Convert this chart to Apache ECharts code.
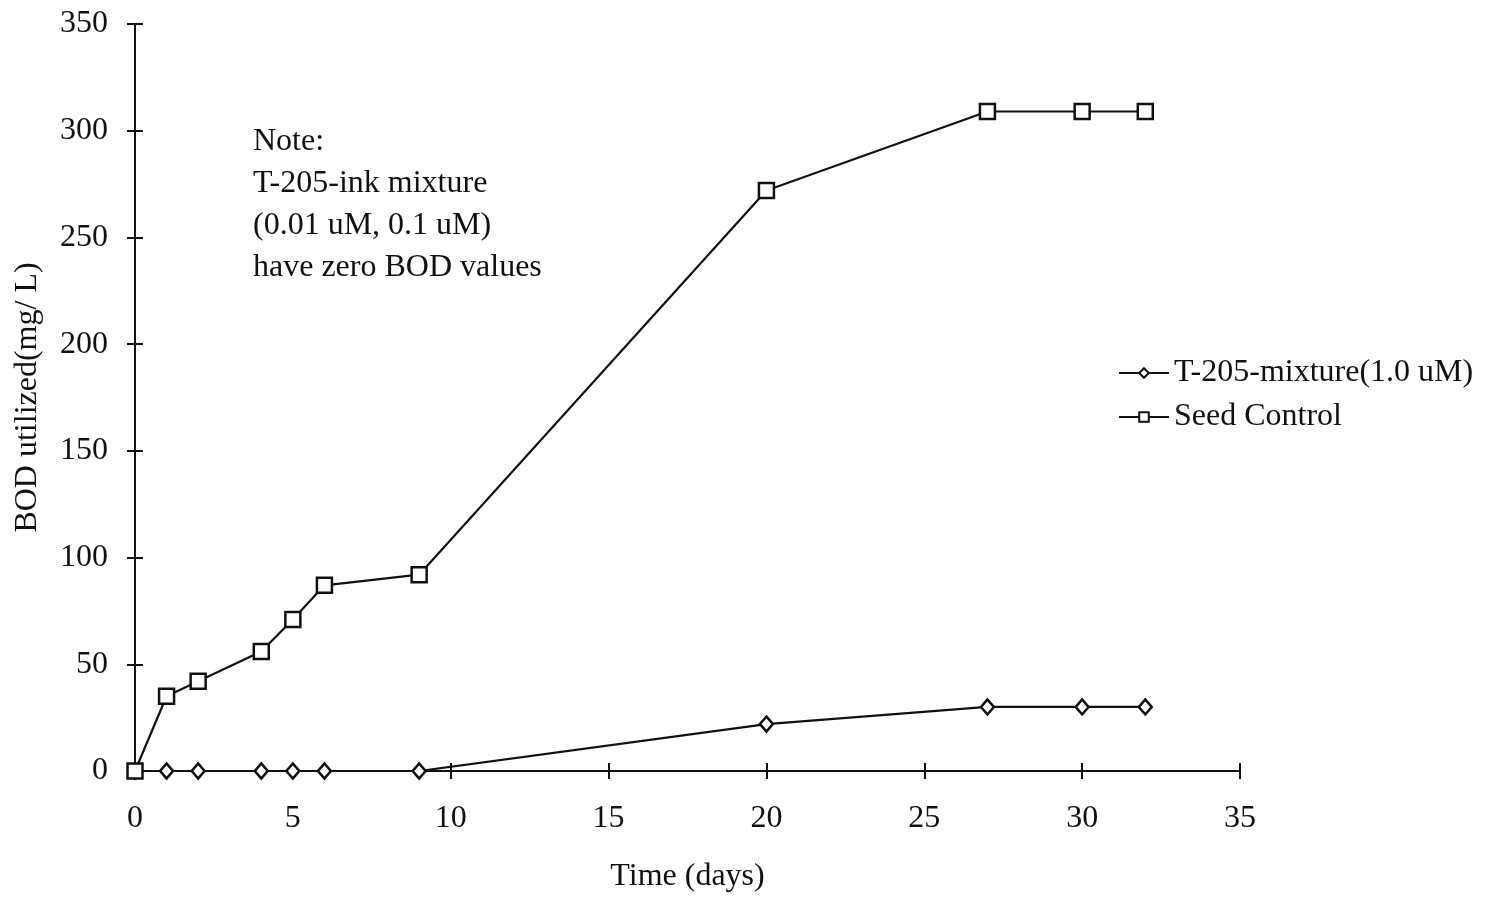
<!DOCTYPE html>
<html>
<head>
<meta charset="utf-8">
<script src="https://cdn.jsdelivr.net/npm/echarts@6/dist/echarts.min.js"></script>
<style>html,body{margin:0;padding:0;background:#fff}#c{width:1490px;height:898px}</style>
</head>
<body>
<div id="c"></div>
<script>
const days = [0, 1, 2, 4, 5, 6, 9, 20, 27, 30, 32];
const t205Values = [0, 0, 0, 0, 0, 0, 0, 22, 30, 30, 30];
const seedValues = [0, 35, 42, 56, 71, 87, 92, 272, 309, 309, 309];
const seriesNames = ['T-205-mixture(1.0 uM)', 'Seed Control'];
const noteLines = ['Note:', 'T-205-ink mixture', '(0.01 uM, 0.1 uM)', 'have zero BOD values'];

const FONT = 'Liberation Serif';
const FS = 32;
const pair = (xs, ys) => xs.map((x, i) => [x, ys[i]]);
const axisLine = {show: true, lineStyle: {color: '#111', width: 2}};

const chart = echarts.init(document.getElementById('c'));
chart.setOption({
  backgroundColor: '#fff',
  animation: false,
  grid: {left: 135, right: 250, top: 24, bottom: 126},
  xAxis: [
    {type: 'value', min: 0, max: 35, interval: 5, position: 'bottom',
     axisLine: axisLine, splitLine: {show: false},
     axisTick: {show: true, length: 8, inside: false, lineStyle: {color: '#111', width: 2}},
     axisLabel: {fontFamily: FONT, fontSize: FS, color: '#111', margin: 32},
     name: 'Time (days)', nameLocation: 'middle', nameGap: 90,
     nameTextStyle: {fontFamily: FONT, fontSize: FS, color: '#111'}},
    {type: 'value', min: 0, max: 35, interval: 5, position: 'bottom',
     axisLine: {show: false}, splitLine: {show: false},
     axisTick: {show: true, length: 8, inside: true, lineStyle: {color: '#111', width: 2}},
     axisLabel: {show: false}}
  ],
  yAxis: [
    {type: 'value', min: 0, max: 350, interval: 50, position: 'left',
     axisLine: axisLine, splitLine: {show: false},
     axisTick: {show: true, length: 8, inside: false, lineStyle: {color: '#111', width: 2}},
     axisLabel: {fontFamily: FONT, fontSize: FS, color: '#111', margin: 27},
     name: 'BOD utilized(mg/ L)', nameLocation: 'middle', nameGap: 91, nameRotate: 90,
     nameTextStyle: {fontFamily: FONT, fontSize: FS, color: '#111'}},
    {type: 'value', min: 0, max: 350, interval: 50, position: 'left',
     axisLine: {show: false}, splitLine: {show: false},
     axisTick: {show: true, length: 8, inside: true, lineStyle: {color: '#111', width: 2}},
     axisLabel: {show: false}}
  ],
  legend: {
    orient: 'vertical', left: 1113, top: 352, itemGap: 12,
    itemWidth: 50, itemHeight: 12,
    textStyle: {fontFamily: FONT, fontSize: FS, color: '#111'},
    data: seriesNames
  },
  series: [
    {name: seriesNames[0], type: 'line', data: pair(days, t205Values),
     symbol: 'diamond', symbolSize: [13, 15],
     lineStyle: {color: '#111', width: 2.2},
     itemStyle: {color: '#fff', borderColor: '#111', borderWidth: 2.5}},
    {name: seriesNames[1], type: 'line', data: pair(days, seedValues),
     symbol: 'rect', symbolSize: 15,
     lineStyle: {color: '#111', width: 2.2},
     itemStyle: {color: '#fff', borderColor: '#111', borderWidth: 2.5}}
  ],
  graphic: [{
    type: 'text', left: 253, top: 121,
    style: {text: noteLines.join('\n'), font: FS + 'px "Liberation Serif"', fill: '#111', lineHeight: 42}
  }]
});
</script>
</body>
</html>
